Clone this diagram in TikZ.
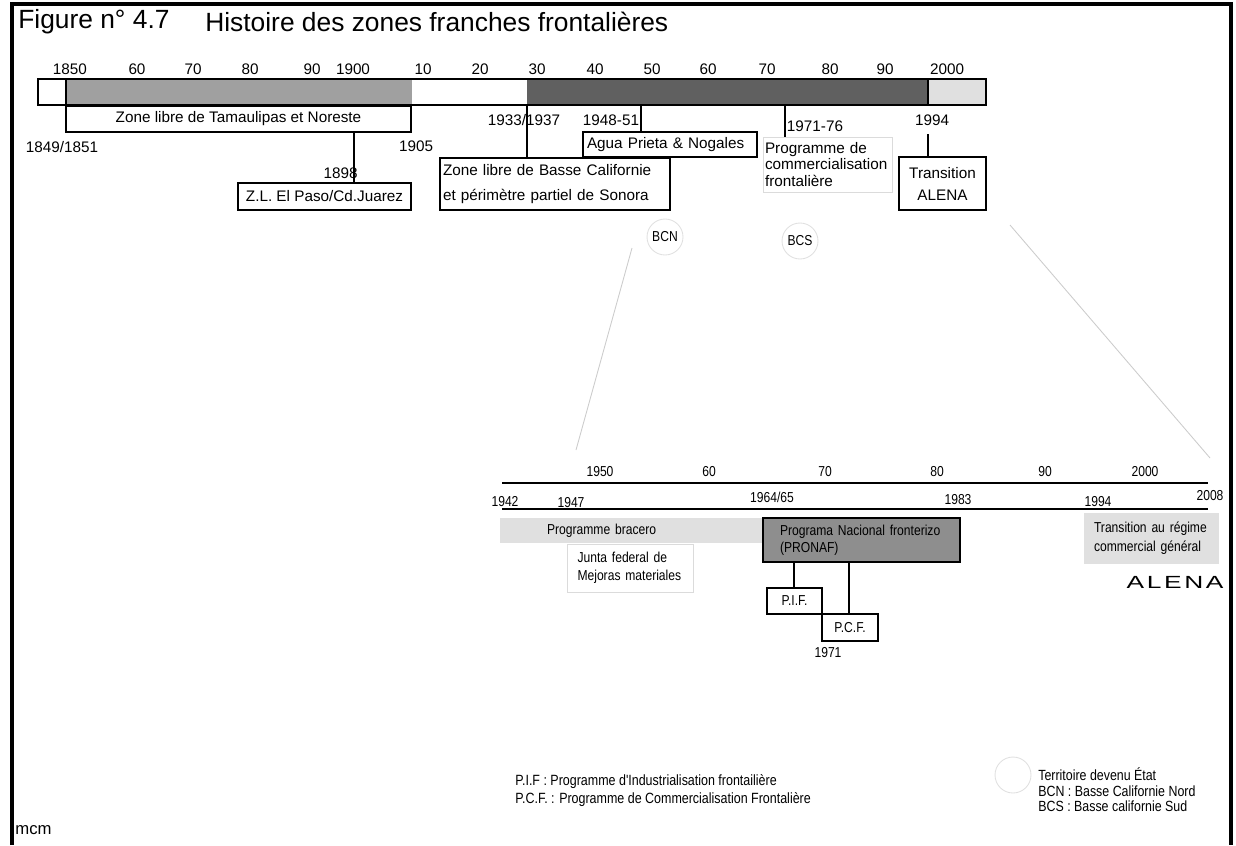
\documentclass[tikz,border=0pt]{standalone}
\usepackage{fontspec}
\setmainfont{Liberation Sans}
\newfontfamily\narrowfont[FakeStretch=0.84]{Liberation Sans}
\newfontfamily\widefont[FakeStretch=1.5,LetterSpace=15]{Liberation Sans}
\usetikzlibrary{positioning}
\definecolor{barmid}{HTML}{A0A0A0}
\definecolor{bardark}{HTML}{606060}
\definecolor{barlight}{HTML}{E0E0E0}
\definecolor{pronafgray}{HTML}{8E8E8E}

\begin{document}
\begin{tikzpicture}[
    x=0.02cm, y=-0.02cm,
    every node/.style = {font=\fontsize{8.7}{10}\selectfont},
    area/.style args = {#1/#2/#3/#4}{at={({(#1+#3)/2},{(#2+#4)/2})},
        minimum width={(#3-#1)*0.02cm}, minimum height={(#4-#2)*0.02cm}},
    seg/.style = {inner sep=0pt},
    box/.style = {draw, line width=1.1pt, inner sep=0pt},
    faint/.style = {draw=black!14, line width=0.5pt, inner sep=0pt},
    lbl/.style = {inner sep=0pt},
    low/.style = {font=\narrowfont\fontsize{8.2}{10}\selectfont},
    ring/.style = {circle, draw=black!12, line width=0.5pt, minimum size=0.72cm, inner sep=0pt},
    link/.style = {line width=1.1pt},
    guide/.style = {black!20, line width=0.5pt}
]
\useasboundingbox (0,0) rectangle (1236,845);

% frame and title
\draw[line width=2pt] (12,845) -- (12,4) -- (1231,4) -- (1231,845);
\node[anchor=west, inner sep=0pt, font=\fontsize{15}{17}\selectfont] (fig) at (18,22) {Figure n° 4.7};
\node[anchor=west, inner sep=0pt, font=\fontsize{15}{17}\selectfont] (hist) at (205,22) {Histoire des zones franches frontalières};

% upper time bar
\node[seg, fill=white, area=38/79/66/105] (seg0) {};
\node[seg, fill=barmid, area=66/79/412/105] (seg1) {};
\node[seg, fill=white, area=412/79/527/105] (seg2) {};
\node[seg, fill=bardark, area=527/79/928/105] (seg3) {};
\node[seg, fill=barlight, area=928/79/986/105] (seg4) {};
\node[box, area=38/79/986/105] (barframe) {};
\draw[link] (seg1.north west) -- (seg1.south west);
\draw[link] (seg4.north west) -- (seg4.south west);

\foreach \x/\t [count=\i] in {70/1850,137/60,193/70,250/80,312/90,353/1900,423/10,480/20,
    537/30,595/40,652/50,708/60,767/70,830/80,885/90,947/2000}
  \node[lbl] (top\i) at (\x,69) {\t};

% upper boxes
\node[box, area=66/106/411/132] (tamaulipas) {Zone libre de Tamaulipas et Noreste};
\node[box, area=238/183/411/210] (elpaso) {Z.L. El Paso/Cd.Juarez};
\node[box, area=440/158/670/210, text width=4.48cm, align=left,
      font=\fontsize{8.7}{14.7}\selectfont] (basse)
      {Zone libre de Basse Californie\\et périmètre partiel de Sonora};
\node[box, area=583/132/757/157, text width=3.32cm, align=left] (agua) {Agua Prieta \& Nogales};
\node[faint, area=763/137/892/192, text width=2.5cm, align=left,
      font=\fontsize{8.7}{9.6}\selectfont] (commerce)
      {Programme de\\commercialisation\\frontalière};
\node[box, area=899/157/986/210, align=center,
      font=\fontsize{8.7}{12.5}\selectfont] (alena) {Transition\\ALENA};

\node[lbl] (y1849) at (62,147) {1849/1851};
\node[lbl, anchor=east] (y1898) at (358,173) {1898};
\node[lbl] (y1905) at (416,146) {1905};
\node[lbl] (y1933) at (524,120) {1933/1937};
\node[lbl] (y1948) at (611,120) {1948-51};
\node[lbl] (y1971) at (815,126) {1971-76};
\node[lbl] (y1994) at (932,120) {1994};

\coordinate (c1898) at (354,132);
\coordinate (c1948) at (641,105);
\coordinate (c1971) at (785,105);
\coordinate (c1994) at (928,134);
\draw[link] (c1898) -- (c1898 |- elpaso.north);
\draw[link] (seg3.south west) -- (seg3.south west |- basse.north);
\draw[link] (c1948) -- (c1948 |- agua.north);
\draw[link] (c1971) -- (c1971 |- commerce.north);
\draw[link] (c1994) -- (c1994 |- alena.north);

% new states
\node[ring, low] (bcn) at (665,237) {BCN};
\node[ring, low] (bcs) at (800,241) {BCS};

% zoom guides
\coordinate (g1a) at (632,248);
\coordinate (g1b) at (576,450);
\coordinate (g2a) at (1010,225);
\coordinate (g2b) at (1210,458);
\draw[guide] (g1a) -- (g1b);
\draw[guide] (g2a) -- (g2b);

% lower time line
\draw[link] (502,483) -- (1208,483);
\draw[link] (502,509) -- (1208,509);
\foreach \x/\t [count=\i] in {600/1950,709/60,825/70,937/80,1045/90,1145/2000}
  \node[lbl, low] (low\i) at (\x,472) {\t};
\foreach \x/\y/\t [count=\i] in {505/502/1942,571/503/1947,772/497/1964\slash65,
    958/500/1983,1098/502/1994,1210/496/2008,828/653/1971}
  \node[lbl, low] (mid\i) at (\x,\y) {\t};

\node[seg, fill=barlight, area=500/518/762/543, text width=3.36cm, align=left, low] (bracero)
      {Programme bracero};
\node[faint, area=567/544/693/592, text width=2.1cm, align=left,
      font=\narrowfont\fontsize{8.2}{10.2}\selectfont] (junta)
      {Junta federal de\\Mejoras materiales};
\node[box, fill=pronafgray, area=763/518/960/562, text width=3.26cm, align=left,
      font=\narrowfont\fontsize{8.2}{9.6}\selectfont] (pronaf)
      {Programa Nacional fronterizo\\(PRONAF)};
\node[box, area=767/588/822/614, low] (pif) {P.I.F.};
\node[box, area=822/614/878/641, low] (pcf) {P.C.F.};
\node[seg, fill=barlight, area=1084/513/1219/564, text width=2.3cm, align=left,
      font=\narrowfont\fontsize{8.2}{10.8}\selectfont] (transition)
      {Transition au régime\\commercial général};
\node[lbl, font=\widefont\fontsize{10}{12}\selectfont] (alenaword) at (1175,582) {ALENA};

\coordinate (cpif) at (794,0);
\coordinate (cpcf) at (849,0);
\draw[link] (cpif |- pronaf.south) -- (cpif |- pif.north);
\draw[link] (cpcf |- pronaf.south) -- (cpcf |- pcf.north);

% legends
\node[anchor=west, inner sep=0pt, align=left, font=\narrowfont\fontsize{8.45}{10.2}\selectfont] (legprog) at (515,791)
      {P.I.F : Programme d'Industrialisation frontailière\\P.C.F. : Programme de Commercialisation Frontalière};
\node[ring] (legring) at (1013,775) {};
\node[anchor=west, inner sep=0pt, align=left, font=\narrowfont\fontsize{8.4}{8.8}\selectfont] (legstate) at (1038,790)
      {Territoire devenu État\\BCN : Basse Californie Nord\\BCS : Basse californie Sud};
\node[anchor=west, inner sep=0pt, font=\fontsize{9.5}{11}\selectfont] (mcm) at (15,830) {mcm};

\end{tikzpicture}
\end{document}
